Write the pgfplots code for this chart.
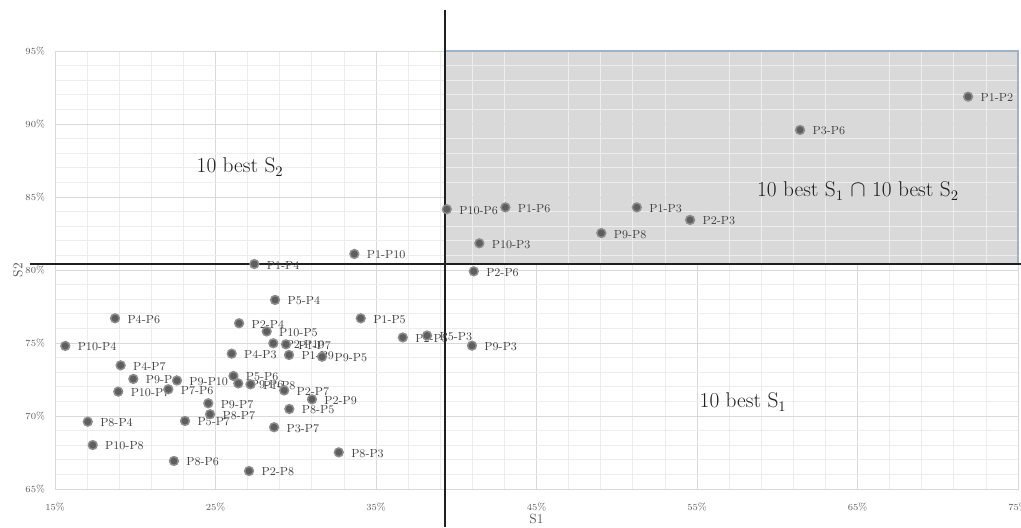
\documentclass[border=0pt]{standalone}
\usepackage{pgfplots}
\pgfplotsset{compat=1.18}
\usepackage{pgfplotstable}
\definecolor{gmaj}{HTML}{D9D9D9}
\definecolor{gmin}{HTML}{EDEDED}
\definecolor{shade}{HTML}{D9D9D9}
\definecolor{edgeblue}{HTML}{9FB3C8}
\definecolor{dotfill}{HTML}{5E5E5E}
\definecolor{dotedge}{HTML}{8E8E8E}
\definecolor{lbl}{HTML}{404040}
\definecolor{tck}{HTML}{595959}
\pgfplotstableread{
x y label
71.89 91.87 P1-P2
61.42 89.59 P3-P6
51.25 84.29 P1-P3
54.57 83.43 P2-P3
49.04 82.53 P9-P8
39.41 84.16 P10-P6
43.06 84.29 P1-P6
41.44 81.83 P10-P3
41.09 79.91 P2-P6
33.65 81.10 P1-P10
27.42 80.41 P1-P4
28.71 77.95 P5-P4
34.05 76.69 P1-P5
26.47 76.35 P2-P4
28.19 75.79 P10-P5
28.60 74.98 P2-P10
29.39 74.91 P1-P7
29.58 74.18 P1-P9
31.64 74.06 P9-P5
26.01 74.27 P4-P3
36.67 75.38 P2-P5
38.18 75.51 P5-P3
40.98 74.82 P9-P3
26.12 72.74 P5-P6
26.42 72.23 P9-P6
27.18 72.17 P1-P8
29.28 71.75 P2-P7
31.01 71.14 P2-P9
29.60 70.48 P8-P5
28.65 69.23 P3-P7
32.68 67.51 P8-P3
27.09 66.23 P2-P8
22.41 66.92 P8-P6
17.35 68.01 P10-P8
17.04 69.61 P8-P4
23.10 69.66 P5-P7
24.66 70.12 P8-P7
24.55 70.87 P9-P7
18.94 71.67 P10-P7
22.06 71.83 P7-P6
19.88 72.54 P9-P4
22.60 72.43 P9-P10
19.09 73.47 P4-P7
15.64 74.80 P10-P4
18.74 76.69 P4-P6
}\pts
\begin{document}
\begin{tikzpicture}
\begin{axis}[
  set layers,
  scale only axis, width=722.25pt, height=328.5pt,
  xmin=15, xmax=75, ymin=65, ymax=95,
  xtick={15,25,...,75}, ytick={65,70,...,95},
  minor x tick num=4, minor y tick num=4,
  grid=both,
  major grid style={draw=gmaj, line width=0.6pt},
  minor grid style={draw=gmin, line width=0.6pt},
  major tick length=0pt, minor tick length=0pt,
  axis line style={draw=gmaj, line width=0.6pt},
  xticklabel={\pgfmathprintnumber{\tick}\%},
  yticklabel={\pgfmathprintnumber{\tick}\%},
  tick label style={font=\fontsize{7.5}{8}\selectfont, text=tck},
  xticklabel style={yshift=-7pt},
  yticklabel style={xshift=-4pt},
  xlabel={S1}, ylabel={S2},
  label style={font=\fontsize{10}{12}\selectfont, text=tck},
  xlabel style={at={(rel axis cs:0.5,-0.0685)}, anchor=center},
  ylabel style={at={(rel axis cs:-0.0385,0.5)}, anchor=center},
  clip=false,
]
\addplot[fill=shade, draw=none, on layer=axis background, forget plot]
  coordinates {(39.30,80.41) (75,80.41) (75,95) (39.30,95)} -- cycle;
\addplot[draw=edgeblue, line width=1.3pt, forget plot]
  coordinates {(39.30,95) (75,95) (75,80.41)};
\addplot[draw=black!88, line width=1.5pt, forget plot]
  coordinates {(39.30,97.81) (39.30,62.397)};
\addplot[draw=black!88, line width=1.5pt, forget plot]
  coordinates {(13.44,80.41) (75.187,80.41)};
\addplot[only marks, mark=*, mark size=3.3pt,
  mark options={fill=dotfill, draw=dotedge, line width=1.1pt},
  nodes near coords, point meta=explicit symbolic,
  every node near coord/.append style={font=\fontsize{8.8}{10}\selectfont, text=lbl, anchor=west, xshift=5.5pt, yshift=-0.8pt}]
  table[x=x, y=y, meta=label] {\pts};
\node[font=\fontsize{16}{19}\selectfont, text=black!88] at (axis cs:26.53,87.06) {10 best S$_2$};
\node[font=\fontsize{16}{19}\selectfont, text=black!88] at (axis cs:65.03,85.41) {10 best S$_1$ $\cap$ 10 best S$_2$};
\node[font=\fontsize{16}{19}\selectfont, text=black!88] at (axis cs:57.87,70.96) {10 best S$_1$};
\coordinate (BL) at (axis cs:11.573,62.397);
\coordinate (TR) at (axis cs:75.187,98.493);
\end{axis}
\pgfresetboundingbox
\path[use as bounding box] (BL) rectangle (TR);
\end{tikzpicture}
\end{document}
